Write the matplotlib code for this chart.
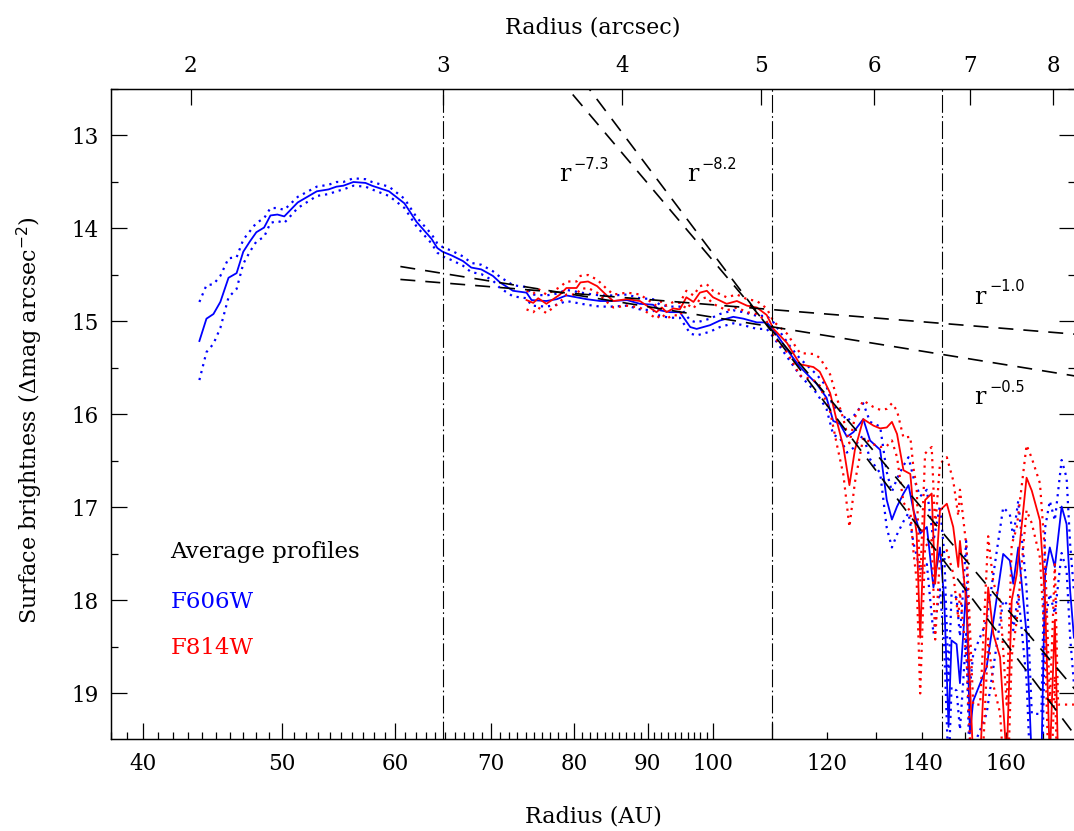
import numpy as np
import matplotlib
matplotlib.use("Agg")
import matplotlib.pyplot as plt
from matplotlib.ticker import FixedLocator, FuncFormatter, NullLocator

plt.rcParams['font.family'] = ['DejaVu Serif']
plt.rcParams['mathtext.fontset'] = 'dejavusans'

# distance (pc) -> 1 arcsec = DIST AU
DIST = 21.6

# F606W average profile (radius in AU, surface brightness, half width of dotted band)
r_blue = [43.8, 44.3, 44.8, 45.3, 45.9, 46.5, 47.0, 47.5, 48.0, 48.6,
          49.1, 49.65, 50.2, 51.3, 52.9, 53.9, 54.6, 55.2, 56.1, 57.2,
          57.8, 59.4, 60.9, 62.1, 63.6, 64.2, 64.75, 65.7, 66.9, 67.8,
          68.9, 70.2, 71.0, 72.5, 74.1, 74.7, 76.5, 77.8, 79.0, 80.3,
          81.6, 83.4, 85.2, 87.1, 88.9, 90.8, 91.8, 93.3, 94.8, 96.4,
          97.4, 99.5, 101.1, 103.3, 105.0, 107.3, 109.0, 110.2, 113.2, 115.0,
          118.1, 120.0, 121.3, 122.6, 124.0, 125.3, 127.3, 128.7, 130.8, 132.2,
          133.3, 134.4, 135.8, 136.9, 138.0, 139.5, 141.0, 142.5, 144.0, 145.0,
          146.0, 146.7, 147.9, 148.7, 149.5, 150.2, 151.1, 151.9, 155.2, 159.4,
          161.1, 162.0, 163.3, 165.5, 166.9, 169.5, 170.5, 171.8, 173.2, 175.1,
          176.5, 177.5, 178.6]
m_blue = [15.21, 14.97, 14.92, 14.79, 14.53, 14.48, 14.25, 14.14, 14.04, 13.99,
          13.86, 13.85, 13.87, 13.72, 13.60, 13.58, 13.55, 13.54, 13.50, 13.51,
          13.54, 13.60, 13.73, 13.93, 14.11, 14.21, 14.25, 14.29, 14.35, 14.42,
          14.44, 14.51, 14.58, 14.67, 14.69, 14.77, 14.78, 14.76, 14.72, 14.74,
          14.76, 14.78, 14.78, 14.77, 14.81, 14.82, 14.88, 14.90, 14.90, 15.06,
          15.08, 15.04, 14.99, 14.95, 14.97, 15.01, 15.01, 15.09, 15.35, 15.49,
          15.67, 15.82, 16.07, 16.10, 16.24, 16.19, 16.05, 16.28, 16.38, 16.92,
          17.13, 16.99, 16.85, 16.76, 17.03, 17.28, 17.21, 17.86, 17.43, 18.00,
          19.36, 18.43, 18.47, 18.89, 18.36, 17.86, 19.43, 19.08, 18.72, 17.50,
          17.57, 17.82, 17.43, 18.36, 19.72, 19.72, 17.72, 17.43, 17.64, 16.99,
          17.18, 17.89, 18.40]
e_blue = [0.42, 0.36, 0.32, 0.28, 0.21, 0.17, 0.13, 0.11, 0.10, 0.10,
          0.08, 0.07, 0.07, 0.06, 0.05, 0.05, 0.05, 0.04, 0.04, 0.04,
          0.04, 0.05, 0.05, 0.05, 0.05, 0.05, 0.05, 0.05, 0.05, 0.05,
          0.05, 0.05, 0.06, 0.06, 0.06, 0.06, 0.06, 0.06, 0.06, 0.06,
          0.06, 0.06, 0.06, 0.06, 0.06, 0.06, 0.06, 0.06, 0.06, 0.07,
          0.07, 0.07, 0.07, 0.07, 0.07, 0.07, 0.07, 0.08, 0.08, 0.09,
          0.10, 0.12, 0.15, 0.15, 0.17, 0.17, 0.17, 0.20, 0.25, 0.30,
          0.30, 0.30, 0.30, 0.30, 0.35, 0.40, 0.40, 0.50, 0.45, 0.50,
          0.50, 0.50, 0.50, 0.50, 0.50, 0.50, 0.50, 0.50, 0.50, 0.50,
          0.50, 0.50, 0.50, 0.50, 0.50, 0.50, 0.50, 0.50, 0.50, 0.50,
          0.50, 0.50, 0.50]

# F814W average profile
r_red = [74.1, 74.9, 75.5, 76.5, 78.2, 79.0, 80.3, 80.8, 81.8, 83.0,
         84.3, 85.2, 87.1, 88.9, 89.9, 91.3, 92.1, 92.8, 93.8, 94.8,
         95.8, 96.9, 97.9, 99.0, 100.0, 102.2, 103.9, 105.6, 107.3, 109.0,
         110.2, 112.6, 115.0, 117.5, 118.7, 120.7, 122.0, 123.3, 124.5, 125.6,
         127.3, 129.4, 130.8, 132.2, 133.3, 134.4, 135.8, 137.3, 138.0, 138.7,
         139.5, 140.6, 142.1, 142.9, 144.0, 145.6, 147.1, 148.3, 148.7, 150.3,
         151.9, 153.6, 155.6, 156.9, 158.6, 160.3, 161.6, 162.9, 165.5, 166.9,
         169.1, 170.5, 171.8, 173.2, 174.1, 178.6]
m_red = [14.77, 14.80, 14.75, 14.81, 14.71, 14.64, 14.64, 14.58, 14.57, 14.62,
         14.72, 14.78, 14.76, 14.78, 14.83, 14.90, 14.85, 14.90, 14.86, 14.87,
         14.74, 14.79, 14.69, 14.67, 14.74, 14.81, 14.78, 14.83, 14.85, 14.93,
         15.08, 15.23, 15.46, 15.49, 15.54, 15.77, 16.07, 16.35, 16.76, 16.38,
         16.05, 16.12, 16.15, 16.14, 16.08, 16.21, 16.60, 16.64, 17.03, 17.28,
         18.40, 16.92, 16.85, 17.82, 17.03, 16.96, 17.21, 17.64, 17.36, 18.04,
         19.72, 19.72, 17.86, 18.36, 18.61, 19.72, 18.00, 17.72, 16.68, 16.82,
         17.14, 18.00, 19.72, 18.21, 19.72, 19.72]
e_red = [0.10, 0.10, 0.10, 0.10, 0.08, 0.07, 0.07, 0.07, 0.07, 0.07,
         0.07, 0.07, 0.07, 0.07, 0.07, 0.07, 0.07, 0.07, 0.07, 0.07,
         0.07, 0.07, 0.07, 0.07, 0.07, 0.07, 0.07, 0.07, 0.07, 0.07,
         0.08, 0.10, 0.12, 0.14, 0.15, 0.20, 0.25, 0.30, 0.45, 0.35,
         0.20, 0.20, 0.20, 0.20, 0.20, 0.25, 0.35, 0.40, 0.45, 0.50,
         0.60, 0.50, 0.50, 0.60, 0.50, 0.50, 0.50, 0.55, 0.55, 0.60,
         0.60, 0.60, 0.55, 0.55, 0.60, 0.60, 0.60, 0.50, 0.35, 0.35,
         0.40, 0.50, 0.60, 0.60, 0.60, 0.60]

# power-law fits: index, anchor radius (AU), anchor mag, radius range
fit_index = [1.0, 0.5, 7.3, 8.2]
fit_r0 = [60.5, 60.5, 108.0, 108.0]
fit_m0 = [14.409, 14.548, 14.957, 14.957]
fit_rmin = [60.5, 60.5, 70.0, 70.0]
fit_rmax = [180.0, 180.0, 180.0, 180.0]

# vertical markers (AU)
vlines_au = [3 * DIST, 110.0, 144.5]

# tick definitions
x_major = [40, 50, 60, 70, 80, 90, 100, 110]
x_minor = [m for m in range(38, 100) if m % 10 != 0] + [120, 130, 140, 150, 160, 170]
x_labeled = [40, 50, 60, 70, 80, 90, 100, 120, 140, 160]
arcsec_ticks = [2, 3, 4, 5, 6, 7, 8]

W, H = 1074, 831
fig = plt.figure(figsize=(W / 100, H / 100), dpi=100)
ax = fig.add_axes([111 / W, 1 - 739 / H, (1075 - 111) / W, 650 / H])

blue = '#0000ff'
red = '#ff0000'
dots = (0, (1.0, 2.2))

rb, mb, eb = np.array(r_blue), np.array(m_blue), np.array(e_blue)
rr, mr, er = np.array(r_red), np.array(m_red), np.array(e_red)

ax.plot(rb, mb, color=blue, lw=1.3)
ax.plot(rb, mb - eb, color=blue, lw=1.6, ls=dots)
ax.plot(rb, mb + eb, color=blue, lw=1.6, ls=dots)
ax.plot(rr, mr, color=red, lw=1.3)
ax.plot(rr, mr - er, color=red, lw=1.6, ls=dots)
ax.plot(rr, mr + er, color=red, lw=1.6, ls=dots)

for p, r0, m0, ra, rz in zip(fit_index, fit_r0, fit_m0, fit_rmin, fit_rmax):
    rs = np.array([ra, rz])
    ax.plot(rs, m0 + 2.5 * p * np.log10(rs / r0), color='black', lw=1.2,
            ls=(0, (9, 6)))

for v in vlines_au:
    ax.axvline(v, color='black', lw=0.8, ls=(0, (16, 3, 1.5, 3)))

ax.set_xscale('log')
ax.set_xlim(38.0, 178.9)
ax.set_ylim(19.49, 12.5)

ax.xaxis.set_major_locator(FixedLocator(x_major))
ax.xaxis.set_minor_locator(FixedLocator(x_minor))
lab = lambda v, pos: '%d' % round(v) if round(v) in x_labeled else ''
ax.xaxis.set_major_formatter(FuncFormatter(lab))
ax.xaxis.set_minor_formatter(FuncFormatter(lab))
ax.yaxis.set_major_locator(FixedLocator([13, 14, 15, 16, 17, 18, 19]))
ax.yaxis.set_minor_locator(FixedLocator([12.5, 13.5, 14.5, 15.5, 16.5, 17.5, 18.5]))
ax.yaxis.set_major_formatter(FuncFormatter(lambda v, pos: '%d' % v))

ax.tick_params(axis='both', which='both', direction='in', labelsize=15.5, width=0.9)
ax.tick_params(axis='both', which='major', length=11.5)
ax.tick_params(axis='both', which='minor', length=5.3)
ax.tick_params(axis='x', which='both', top=False, pad=10)
ax.tick_params(axis='y', which='both', left=True, right=True, pad=9)
for s in ax.spines.values():
    s.set_linewidth(0.9)

ax.set_xlabel('Radius (AU)', fontsize=16)
ax.xaxis.set_label_coords(0.5, -0.102)
ax.set_ylabel('Surface brightness (Δmag arcsec$^{-2}$)', fontsize=16)
ax.yaxis.set_label_coords(-0.068, 0.49)

ax2 = ax.twiny()
ax2.set_xscale('log')
ax2.set_xlim(ax.get_xlim())
ax2.xaxis.set_major_locator(FixedLocator([a * DIST for a in arcsec_ticks]))
ax2.xaxis.set_minor_locator(NullLocator())
ax2.xaxis.set_major_formatter(FuncFormatter(lambda v, pos: '%d' % round(v / DIST)))
ax2.tick_params(axis='x', direction='in', length=11.5, width=0.9, labelsize=15.5, pad=9)
ax2.set_xlabel('Radius (arcsec)', fontsize=16)
ax2.xaxis.set_label_coords(0.5, 1.085)
for s in ax2.spines.values():
    s.set_linewidth(0.9)


def power_label(x, y, expo):
    ax.text(x, y, 'r', fontsize=17, ha='center', va='center')
    ax.annotate(expo, xy=(x, y), xytext=(6.5, 7.5), textcoords='offset points',
                fontsize=10.5, family='DejaVu Sans', ha='left', va='center')


power_label(78.8, 13.42, '\u22127.3')
power_label(96.8, 13.42, '\u22128.2')
power_label(153.6, 14.74, '\u22121.0')
power_label(153.6, 15.82, '\u22120.5')

ax.text(41.8, 17.48, 'Average profiles', fontsize=16.5, color='black', va='center')
ax.text(41.8, 18.02, 'F606W', fontsize=16.5, color=blue, va='center')
ax.text(41.8, 18.51, 'F814W', fontsize=16.5, color=red, va='center')

fig.savefig('out.png', dpi=100)
